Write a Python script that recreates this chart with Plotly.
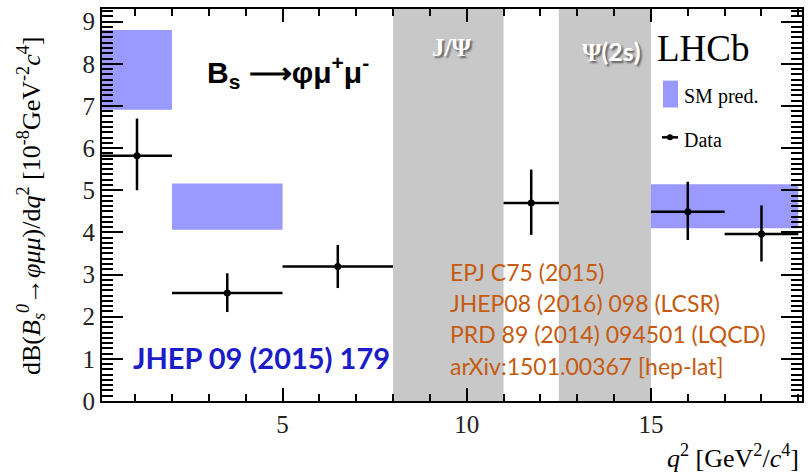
import plotly.graph_objects as go

# Measured differential branching fraction, dB/dq^2 [1e-8 GeV^-2 c^4]
bin_lo = [0.1, 2.0, 5.0, 11.0, 15.0, 17.0]
bin_hi = [2.0, 5.0, 8.0, 12.5, 17.0, 19.0]
data_val = [5.82, 2.56, 3.19, 4.70, 4.49, 3.96]
err_up = [0.88, 0.47, 0.51, 0.79, 0.71, 0.68]
err_dn = [0.82, 0.45, 0.51, 0.76, 0.67, 0.65]

# Standard Model prediction bands (q^2 bin, lower/upper edge)
sm_lo_q2 = [0.1, 2.0, 15.0]
sm_hi_q2 = [2.0, 5.0, 19.0]
sm_lo = [6.91, 4.06, 4.10]
sm_hi = [8.80, 5.16, 5.14]

# Charmonium vetoed regions
veto_lo = [8.0, 12.5]
veto_hi = [11.0, 15.0]

refs = ["EPJ C75 (2015)", "JHEP08 (2016) 098 (LCSR)",
        "PRD 89 (2014) 094501 (LQCD)", "arXiv:1501.00367 [hep-lat]"]

W, H = 811, 475
L, R, T, B = 102, 9, 7, 74
PW, PH = W - L - R, H - T - B

def px(x):
    return (x - L) / PW

def py(y):
    return (H - B - y) / PH

SERIF = "Liberation Serif"
SANS = "Liberation Sans"
HUM = "Lato"

xc = [(a + b) / 2 for a, b in zip(bin_lo, bin_hi)]
xe = [(b - a) / 2 for a, b in zip(bin_lo, bin_hi)]

fig = go.Figure()
fig.add_trace(go.Scatter(
    x=xc, y=data_val, mode="markers",
    marker=dict(color="black", size=7),
    error_x=dict(type="data", array=xe, color="black", thickness=2.5, width=0),
    error_y=dict(type="data", array=err_up, arrayminus=err_dn, symmetric=False,
                 color="black", thickness=2.5, width=0),
    showlegend=False, hoverinfo="skip"))

shapes = []
for a, b in zip(veto_lo, veto_hi):
    shapes.append(dict(type="rect", xref="x", yref="y domain", x0=a, x1=b, y0=0, y1=1,
                       fillcolor="#c8c8c8", line_width=0, layer="below"))
for a, b, lo, hi in zip(sm_lo_q2, sm_hi_q2, sm_lo, sm_hi):
    shapes.append(dict(type="rect", xref="x", yref="y", x0=a, x1=b, y0=lo, y1=hi,
                       fillcolor="#9999ff", line_width=0, layer="below"))

# legend glyphs
shapes.append(dict(type="rect", xref="paper", yref="paper", x0=px(663), x1=px(678),
                   y0=py(106), y1=py(79), fillcolor="#9999ff", line_width=0))
shapes.append(dict(type="line", xref="paper", yref="paper", x0=px(662), x1=px(678),
                   y0=py(136), y1=py(136), line=dict(color="black", width=2.5)))
shapes.append(dict(type="circle", xref="paper", yref="paper", x0=px(667), x1=px(673),
                   y0=py(139), y1=py(133), fillcolor="black", line_width=0))

ann = []
def text(t, x, y, size, font=SERIF, color="black", xanchor="left", **kw):
    ann.append(dict(text=t, x=px(x), y=py(y), xref="paper", yref="paper",
                    xanchor=xanchor, yanchor="middle", showarrow=False,
                    font=dict(family=font, size=size, color=color), **kw))

text("<b>B<sub>s</sub> ⟶φμ<sup>+</sup>μ<sup>-</sup></b>", 205, 70, 30, font=SANS)
text("LHCb", 655, 47, 37)
text("SM pred.", 682, 95, 20)
text("Data", 682, 139, 20)
text("<b>J/Ψ</b>", 451, 46, 25, color="white", xanchor="center")
text("<b>Ψ<span style=\"font-family:Lato\">(2s)</span></b>", 611, 49, 25,
     color="white", xanchor="center")
for a in ann[-2:]:
    a["font"]["shadow"] = "2px 2px 2px #606060"
text("<b>JHEP 09 (2015) 179</b>", 131, 357, 29, font=HUM, color="#1c1cc8")
for i, r in enumerate(refs):
    text(r, 448, 271 + i * 31.5, 23, font=HUM, color="#c55a11")

text("<i>q</i><sup>2</sup> [GeV<sup>2</sup>/<i>c</i><sup>4</sup>]", 801, 457, 26,
     xanchor="right")
ann.append(dict(
    text="dB(<i>B<sub>s</sub><sup>0</sup></i>→<i>φμμ</i>)/d<i>q</i><sup>2</sup> "
         "[10<sup>-8</sup>GeV<sup>-2</sup><i>c</i><sup>4</sup>]",
    x=px(31), y=py(205), xref="paper", yref="paper", xanchor="center", yanchor="middle",
    textangle=-90, showarrow=False, font=dict(family=SERIF, size=26, color="black")))

fig.update_layout(
    width=W, height=H, margin=dict(l=L, r=R, t=T, b=B),
    paper_bgcolor="white", plot_bgcolor="white",
    shapes=shapes, annotations=ann, showlegend=False,
    xaxis=dict(range=[0.1, 19.1], tickmode="array", tickvals=[5, 10, 15],
               ticks="inside", ticklen=13, tickwidth=2, tickcolor="black",
               minor=dict(ticks="inside", dtick=1, tick0=0, ticklen=7,
                          tickwidth=2, tickcolor="black"),
               showline=True, linecolor="black", linewidth=2, mirror="ticks",
               showgrid=False, zeroline=False,
               tickfont=dict(family=SERIF, size=25, color="#222")),
    yaxis=dict(range=[0, 9.3], tickmode="array", tickvals=list(range(10)),
               ticks="inside", ticklen=21, tickwidth=2, tickcolor="black",
               minor=dict(ticks="inside", dtick=0.125, tick0=0, ticklen=11,
                          tickwidth=2, tickcolor="black"),
               showline=True, linecolor="black", linewidth=2, mirror="ticks",
               showgrid=False, zeroline=False,
               tickfont=dict(family=SERIF, size=25, color="#222")),
)

fig.write_html("out.html")
